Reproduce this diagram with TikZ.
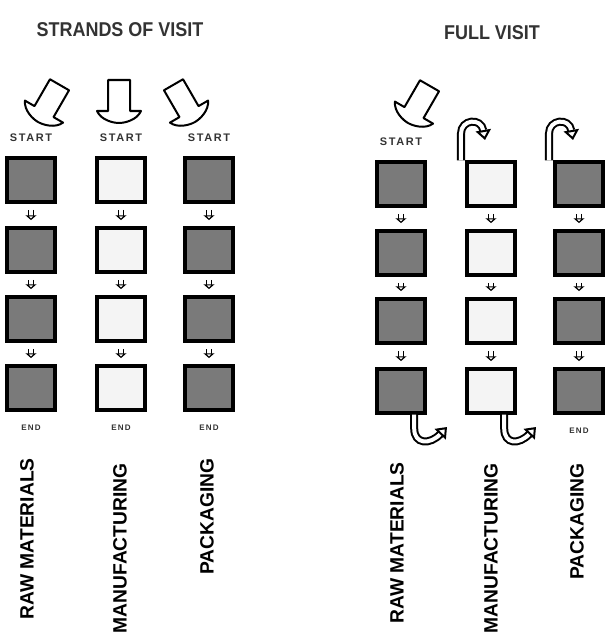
\documentclass[tikz,border=0pt]{standalone}
\usepackage{fontspec}
\usepackage{xcolor}
\usepackage{tikz}
\usetikzlibrary{arrows.meta,positioning}
\newfontfamily\labelfont{Liberation Sans}
\newfontfamily\titlefont[FakeStretch=0.9]{Liberation Sans}
\newfontfamily\tagfont[LetterSpace=15]{Liberation Sans}
\definecolor{visitdark}{RGB}{122,122,122}
\definecolor{visitlight}{RGB}{244,244,244}
\tikzset{
    bigarrow/.pic={
        \draw[line width=0.05cm, fill=white, line join=round] (11,-43) -- (11,-12) -- (22,-12) .. controls (18,-3) and (6,0) .. (0,0) .. controls (-6,0) and (-18,-3) .. (-22,-12) -- (-11,-12) -- (-11,-43) -- cycle;
    }
}

\begin{document}
\begin{tikzpicture}[
    x=0.025cm, y=-0.025cm,
    box/.style={rectangle, draw, line width=0.1cm, minimum width=1.2cm, minimum height=1.075cm, inner sep=0},
    darkbox/.style={box, fill=visitdark},
    lightbox/.style={box, fill=visitlight},
    flow/.style={double=white, line width=0.03cm, double distance=0.09cm, shorten <=0.16cm, shorten >=0.16cm, -{Triangle[fill=white, length=0.12cm, width=0.27cm]}},
    hookarrow/.style={double=white, line width=0.05cm, double distance=0.1cm, -{Triangle[fill=white, length=0.25cm, width=0.38cm]}},
    starttag/.style={font=\tagfont\bfseries\fontsize{7.8}{8}\selectfont, inner sep=0, text=black!80},
    endtag/.style={starttag, font=\tagfont\bfseries\fontsize{5.7}{6}\selectfont},
    strand/.style={rotate=90, anchor=east, inner sep=0, font=\labelfont\bfseries\fontsize{13.7}{14}\selectfont},
    title/.style={font=\titlefont\bfseries\fontsize{14.2}{15}\selectfont, text=black!80}
]
    \useasboundingbox (0,0) rectangle (605,637);

    \node[title] (t1) at (120,30) {STRANDS OF VISIT};
    \node[title] (t2) at (492,33) {FULL VISIT};

    \node[darkbox] (raw1) at (31,180) {};
    \node[darkbox] (raw2) at (31,250) {};
    \node[darkbox] (raw3) at (31,319) {};
    \node[darkbox] (raw4) at (31,388) {};
    \node[lightbox] (man1) at (121,180) {};
    \node[lightbox] (man2) at (121,250) {};
    \node[lightbox] (man3) at (121,319) {};
    \node[lightbox] (man4) at (121,388) {};
    \node[darkbox] (pack1) at (209,180) {};
    \node[darkbox] (pack2) at (209,250) {};
    \node[darkbox] (pack3) at (209,319) {};
    \node[darkbox] (pack4) at (209,388) {};

    \node[darkbox] (fraw1) at (401,184) {};
    \node[darkbox] (fraw2) at (401,253) {};
    \node[darkbox] (fraw3) at (401,321) {};
    \node[darkbox] (fraw4) at (401,391) {};
    \node[lightbox] (fman1) at (491,184) {};
    \node[lightbox] (fman2) at (491,253) {};
    \node[lightbox] (fman3) at (491,321) {};
    \node[lightbox] (fman4) at (491,391) {};
    \node[darkbox] (fpack1) at (579,184) {};
    \node[darkbox] (fpack2) at (579,253) {};
    \node[darkbox] (fpack3) at (579,321) {};
    \node[darkbox] (fpack4) at (579,391) {};

    \draw[flow] (raw1) -- (raw2);
    \draw[flow] (raw2) -- (raw3);
    \draw[flow] (raw3) -- (raw4);
    \draw[flow] (man1) -- (man2);
    \draw[flow] (man2) -- (man3);
    \draw[flow] (man3) -- (man4);
    \draw[flow] (pack1) -- (pack2);
    \draw[flow] (pack2) -- (pack3);
    \draw[flow] (pack3) -- (pack4);
    \draw[flow] (fraw1) -- (fraw2);
    \draw[flow] (fraw2) -- (fraw3);
    \draw[flow] (fraw3) -- (fraw4);
    \draw[flow] (fman1) -- (fman2);
    \draw[flow] (fman2) -- (fman3);
    \draw[flow] (fman3) -- (fman4);
    \draw[flow] (fpack1) -- (fpack2);
    \draw[flow] (fpack2) -- (fpack3);
    \draw[flow] (fpack3) -- (fpack4);

    \node[starttag, above=0.37cm of raw1] (s1) {START};
    \node[starttag, above=0.37cm of man1] (s2) {START};
    \node[starttag, above=0.37cm of pack1] (s3) {START};
    \node[starttag, above=0.37cm of fraw1] (fs1) {START};

    \pic[rotate=-30] at (38,122) {bigarrow};
    \pic at (119,123) {bigarrow};
    \pic[rotate=30] at (195,122) {bigarrow};
    \pic[rotate=-30] at (408,123) {bigarrow};

    \node[endtag, below=0.32cm of raw4] (e1) {END};
    \node[endtag, below=0.32cm of man4] (e2) {END};
    \node[endtag, below=0.32cm of pack4] (e3) {END};
    \node[endtag, below=0.32cm of fpack4] (fe3) {END};

    % carried over from the previous strand
    \coordinate (enter2) at (485,140);
    \coordinate (enter3) at (573,140);
    \draw[hookarrow] ([xshift=-0.1cm]fman1.north west) -- ++(0,-27) .. controls +(0,-14) and +(-4,-23) .. (enter2);
    \draw[hookarrow] ([xshift=-0.1cm]fpack1.north west) -- ++(0,-27) .. controls +(0,-14) and +(-4,-23) .. (enter3);

    % handed on to the next strand
    \coordinate (exit1) at (447,427);
    \coordinate (exit2) at (536,427);
    \draw[hookarrow] ([xshift=0.33cm]fraw4.south) -- ++(0,14) .. controls +(0,16) and +(-17,18) .. (exit1);
    \draw[hookarrow] ([xshift=0.33cm]fman4.south) -- ++(0,14) .. controls +(0,16) and +(-17,18) .. (exit2);

    \node[strand] (n1) at (27,458) {RAW MATERIALS};
    \node[strand] (n2) at (120,463) {MANUFACTURING};
    \node[strand] (n3) at (207,458) {PACKAGING};
    \node[strand] (fn1) at (397,462) {RAW MATERIALS};
    \node[strand] (fn2) at (491,463) {MANUFACTURING};
    \node[strand] (fn3) at (577,463) {PACKAGING};
\end{tikzpicture}
\end{document}
